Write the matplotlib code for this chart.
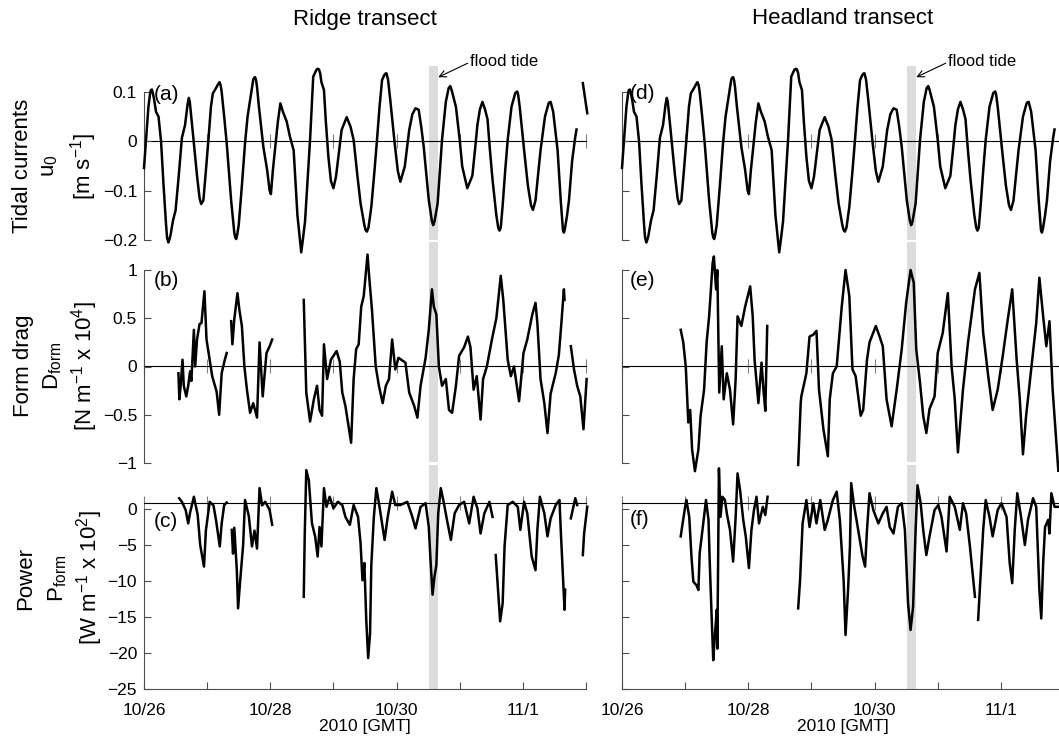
import numpy as np
import matplotlib
matplotlib.use('Agg')
import matplotlib.pyplot as plt

nan = np.nan

# time axis: days after 10/26 00:00 GMT
# tidal current u0 [m/s] (same record drawn for both transects)
u0_pts = [
    (0.00, -0.054), (0.03, 0.00), (0.07, 0.07), (0.10, 0.10), (0.11, 0.104), (0.125, 0.105),
    (0.145, 0.095), (0.16, 0.085), (0.19, 0.06), (0.23, 0.05), (0.27, 0.00), (0.31, -0.09),
    (0.35, -0.17), (0.365, -0.195), (0.386, -0.205), (0.405, -0.198), (0.42, -0.19),
    (0.46, -0.16), (0.50, -0.14), (0.55, -0.07), (0.60, 0.007), (0.65, 0.033), (0.69, 0.075),
    (0.71, 0.088), (0.725, 0.08), (0.74, 0.06), (0.78, 0.009), (0.84, -0.07), (0.88, -0.115),
    (0.905, -0.127), (0.94, -0.12), (0.98, -0.06), (1.02, 0.003), (1.06, 0.07), (1.09, 0.097),
    (1.15, 0.11), (1.17, 0.115), (1.196, 0.12), (1.215, 0.113), (1.23, 0.10), (1.27, 0.05),
    (1.31, -0.004), (1.38, -0.12), (1.43, -0.185), (1.445, -0.195), (1.46, -0.198),
    (1.475, -0.19), (1.50, -0.17), (1.55, -0.09), (1.60, -0.004), (1.64, 0.05), (1.68, 0.084),
    (1.73, 0.125), (1.745, 0.129), (1.76, 0.13), (1.775, 0.124), (1.79, 0.11), (1.82, 0.07),
    (1.89, -0.011), (1.95, -0.058), (1.99, -0.10), (2.01, -0.107), (2.04, -0.06),
    (2.08, -0.011), (2.12, 0.04), (2.16, 0.077), (2.20, 0.06), (2.26, 0.04), (2.31, 0.01),
    (2.37, -0.018), (2.43, -0.15), (2.47, -0.20), (2.49, -0.225), (2.52, -0.195),
    (2.55, -0.163), (2.59, -0.08), (2.63, 0.003), (2.68, 0.131), (2.73, 0.145), (2.75, 0.147),
    (2.77, 0.146), (2.79, 0.138), (2.81, 0.12), (2.85, 0.104), (2.88, 0.04), (2.92, -0.031),
    (2.96, -0.08), (3.00, -0.095), (3.04, -0.072), (3.09, -0.02), (3.13, 0.023),
    (3.16, 0.033), (3.21, 0.049), (3.27, 0.03), (3.32, 0.003), (3.38, -0.07), (3.43, -0.126),
    (3.49, -0.17), (3.51, -0.18), (3.53, -0.183), (3.555, -0.175), (3.60, -0.133),
    (3.65, -0.06), (3.69, 0.003), (3.73, 0.07), (3.77, 0.124), (3.80, 0.133), (3.82, 0.137),
    (3.84, 0.138), (3.865, 0.125), (3.90, 0.084), (3.97, -0.004), (4.02, -0.06),
    (4.06, -0.082), (4.13, -0.051), (4.20, 0.023), (4.25, 0.055), (4.30, 0.067),
    (4.35, 0.064), (4.39, 0.03), (4.43, -0.011), (4.51, -0.119), (4.56, -0.162),
    (4.58, -0.17), (4.60, -0.163), (4.65, -0.126), (4.72, 0.003), (4.78, 0.08),
    (4.825, 0.108), (4.85, 0.112), (4.87, 0.105), (4.90, 0.09), (4.94, 0.07), (5.00, 0.003),
    (5.04, -0.051), (5.12, -0.095), (5.20, -0.07), (5.24, -0.02), (5.28, 0.033),
    (5.32, 0.065), (5.36, 0.080), (5.40, 0.065), (5.44, 0.045), (5.48, -0.02), (5.52, -0.078),
    (5.58, -0.15), (5.61, -0.175), (5.63, -0.181), (5.65, -0.175), (5.68, -0.13),
    (5.72, -0.06), (5.76, 0.003), (5.82, 0.07), (5.88, 0.098), (5.91, 0.101), (5.925, 0.095),
    (5.95, 0.07), (6.02, -0.018), (6.08, -0.09), (6.13, -0.13), (6.16, -0.139), (6.20, -0.12),
    (6.28, -0.018), (6.35, 0.05), (6.41, 0.078), (6.44, 0.080), (6.48, 0.06), (6.55, -0.018),
    (6.60, -0.12), (6.635, -0.18), (6.65, -0.185), (6.665, -0.178), (6.70, -0.15),
    (6.73, -0.12), (6.78, -0.04), (6.83, 0.009), (6.85, 0.024),
    (nan, nan), (6.95, 0.118), (7.02, 0.057),
]

# form drag, ridge transect [N/m x 1e4]
drag_ridge_pts = [
    (0.545, -0.07), (0.56, -0.34), (0.58, -0.2), (0.61, 0.07), (0.63, -0.2), (0.67, -0.31),
    (0.70, -0.2), (0.73, -0.05), (0.75, -0.15), (0.79, 0.38), (0.81, 0.0), (0.84, 0.28),
    (0.88, 0.44), (0.91, 0.45), (0.957, 0.78), (0.99, 0.28), (1.04, 0.07), (1.08, -0.1),
    (1.15, -0.26), (1.19, -0.5), (1.23, -0.07), (1.28, 0.07), (1.31, 0.14), (nan, nan),
    (1.38, 0.47), (1.40, 0.23), (1.43, 0.49), (1.48, 0.76), (1.51, 0.59), (1.55, 0.42),
    (1.59, 0.0), (1.63, -0.24), (1.68, -0.48), (1.73, -0.38), (1.79, -0.53), (1.83, 0.25),
    (1.88, -0.31), (1.94, 0.14), (1.99, 0.21), (2.03, 0.28), (nan, nan),
    (2.53, 0.69), (2.57, -0.27), (2.63, -0.57), (2.69, -0.34), (2.74, -0.2), (2.78, -0.45),
    (2.82, -0.51), (2.85, 0.23), (2.90, -0.13), (2.96, 0.07), (3.05, 0.16), (3.10, 0.05),
    (3.14, -0.27), (3.19, -0.41), (3.28, -0.79), (3.32, -0.13), (3.36, 0.18), (3.40, 0.23),
    (3.44, 0.62), (3.48, 0.73), (3.54, 1.16), (3.57, 0.9), (3.61, 0.59), (3.67, 0.0),
    (3.72, -0.2), (3.78, -0.38), (3.83, -0.2), (3.88, -0.13), (3.93, 0.28), (3.98, -0.03),
    (4.03, 0.09), (4.14, 0.04), (4.20, -0.27), (4.28, -0.41), (4.33, -0.53), (4.38, -0.2),
    (4.46, 0.09), (4.51, 0.38), (4.56, 0.8), (4.59, 0.62), (4.63, 0.54), (4.67, 0.0),
    (4.72, -0.2), (4.78, -0.13), (4.83, -0.45), (4.88, -0.48), (4.94, -0.2), (4.99, 0.11),
    (5.07, 0.2), (5.13, 0.31), (5.17, 0.2), (5.22, -0.24), (5.27, -0.1), (5.33, -0.55),
    (5.37, -0.13), (5.43, 0.0), (5.51, 0.28), (5.58, 0.5), (5.65, 0.94), (5.69, 0.69),
    (5.76, 0.07), (5.81, -0.1), (5.86, 0.0), (5.94, -0.36), (6.01, 0.14), (6.07, 0.28),
    (6.15, 0.54), (6.20, 0.66), (6.23, 0.45), (6.28, -0.13), (6.34, -0.38), (6.39, -0.69),
    (6.44, -0.28), (6.52, -0.07), (6.57, 0.12), (6.61, 0.45), (6.65, 0.8), (6.66, 0.69),
    (nan, nan), (6.76, 0.21), (6.81, -0.03), (6.86, -0.2), (6.91, -0.31), (6.96, -0.65),
    (7.01, -0.13),
]

# form drag, headland transect [N/m x 1e4]
drag_head_pts = [
    (0.93, 0.38), (0.97, 0.25), (1.01, 0.0), (1.05, -0.58), (1.08, -0.45), (1.11, -0.86),
    (1.155, -1.085), (1.21, -0.86), (1.245, -0.51), (1.30, -0.24), (1.34, 0.25), (1.38, 0.52),
    (1.435, 1.07), (1.455, 1.14), (1.49, 0.8), (1.51, 1.0), (1.54, -0.27), (1.58, 0.21),
    (1.61, -0.34), (1.66, -0.07), (1.71, -0.24), (1.76, -0.6), (1.80, -0.13), (1.83, 0.52),
    (1.89, 0.42), (1.95, 0.62), (2.03, 0.83), (2.07, 0.52), (2.10, 0.07), (2.16, -0.38),
    (2.21, 0.04), (2.24, -0.24), (2.27, -0.46), (2.30, 0.42), (nan, nan),
    (2.79, -1.02), (2.83, -0.38), (2.84, -0.31), (2.92, -0.07), (2.97, 0.31), (3.03, 0.33),
    (3.08, 0.37), (3.12, -0.24), (3.19, -0.65), (3.26, -0.93), (3.29, -0.34), (3.34, -0.07),
    (3.40, 0.0), (3.48, 0.62), (3.54, 1.0), (3.60, 0.73), (3.65, -0.03), (3.70, -0.1),
    (3.78, -0.51), (3.82, -0.45), (3.88, 0.07), (3.92, 0.25), (4.02, 0.42), (4.08, 0.31),
    (4.13, 0.21), (4.19, -0.34), (4.27, -0.62), (4.35, -0.24), (4.43, 0.18), (4.50, 0.66),
    (4.57, 1.0), (4.62, 0.87), (4.66, 0.18), (4.72, -0.17), (4.77, -0.51), (4.82, -0.69),
    (4.87, -0.44), (4.95, -0.31), (5.00, 0.14), (5.08, 0.35), (5.16, 0.76), (5.22, 0.0),
    (5.27, -0.34), (5.32, -0.89), (5.40, -0.24), (5.48, 0.25), (5.59, 0.8), (5.66, 0.97),
    (5.72, 0.35), (5.80, -0.1), (5.87, -0.45), (5.95, -0.24), (6.03, 0.11), (6.11, 0.49),
    (6.18, 0.8), (6.25, 0.07), (6.30, -0.34), (6.35, -0.91), (6.40, -0.51), (6.48, -0.03),
    (6.56, 0.45), (6.61, 0.92), (6.67, 0.52), (6.72, 0.21), (6.77, 0.47), (6.82, -0.24),
    (6.91, -1.08),
]

# form drag power, ridge transect [W/m x 1e2]
power_ridge_pts = [
    (0.557, 1.48), (0.60, 1.0), (0.66, -0.14), (0.70, -2.0), (0.73, -0.5), (0.79, 1.7),
    (0.85, -0.8), (0.89, -5.0), (0.95, -8.0), (0.98, -3.0), (1.04, 1.0), (1.10, 0.5),
    (1.14, -1.5), (1.20, -5.2), (1.23, -2.0), (1.27, 0.55), (1.31, 0.9), (nan, nan),
    (1.39, -2.9), (1.41, -6.2), (1.43, -2.6), (1.47, -8.5), (1.49, -13.8), (1.52, -10.3),
    (1.57, -5.0), (1.60, 1.25), (1.66, -1.0), (1.71, -5.2), (1.75, -3.0), (1.79, -5.5),
    (1.83, 2.9), (1.87, 0.5), (1.92, 1.0), (1.99, -0.14), (2.03, -2.2), (nan, nan),
    (2.53, -12.2), (2.545, -3.8), (2.57, 5.4), (2.61, 4.0), (2.66, -2.0), (2.71, -3.8),
    (2.75, -6.6), (2.78, -2.5), (2.81, -5.2), (2.85, 2.9), (2.89, 0.3), (2.94, 1.7),
    (3.00, 0.1), (3.07, 1.0), (3.14, 0.55), (3.19, -1.1), (3.26, -2.2), (3.32, 0.55),
    (3.39, -1.1), (3.43, -4.8), (3.46, -9.9), (3.49, -7.5), (3.52, -15.4), (3.55, -20.7),
    (3.58, -17.3), (3.60, -7.8), (3.64, -1.1), (3.68, 2.9), (3.73, 0.3), (3.77, -2.0),
    (3.81, -4.3), (3.86, -1.1), (3.93, 2.4), (3.98, 0.55), (4.06, 0.55), (4.17, 1.0),
    (4.25, -1.1), (4.30, -2.7), (4.38, 0.3), (4.46, 0.8), (4.51, -2.5), (4.54, -7.5),
    (4.57, -11.9), (4.60, -9.4), (4.63, -7.8), (4.66, -0.6), (4.70, 2.9), (4.75, 0.8),
    (4.80, -1.6), (4.86, -4.3), (4.92, -0.6), (4.99, 0.55), (5.07, 1.0), (5.15, -2.0),
    (5.22, 1.7), (5.28, 0.1), (5.33, -3.4), (5.39, -0.6), (5.47, 1.0), (5.52, -1.1),
    (nan, nan), (5.57, -6.4), (5.64, -15.6), (5.68, -13.1), (5.71, -5.2), (5.76, 0.55),
    (5.84, 1.0), (5.92, 0.3), (5.96, -2.9), (6.02, 1.0), (6.07, -0.6), (6.14, -6.6),
    (6.20, -8.5), (6.23, -2.9), (6.27, 1.7), (6.34, -0.6), (6.39, -3.8), (6.44, -1.3),
    (6.52, 0.55), (6.58, 1.25), (6.60, -2.9), (6.66, -14.0), (6.67, -11.2), (nan, nan),
    (6.76, -1.3), (6.83, 1.5), (6.86, 0.55), (nan, nan), (6.95, -6.4), (6.97, -3.4),
    (7.02, 0.3),
]

# form drag power, headland transect [W/m x 1e2]
power_head_pts = [
    (0.93, -3.8), (0.96, -2.0), (1.00, 0.3), (1.02, 1.25), (1.065, -1.1), (1.10, -6.6),
    (1.13, -10.1), (1.18, -10.6), (1.21, -11.25), (1.23, -6.15), (1.28, -2.5), (1.33, 1.25),
    (1.37, -1.5), (1.39, -7.5), (1.42, -15.0), (1.445, -21.0), (1.47, -17.7), (1.50, -14.0),
    (1.51, -19.4), (1.535, 5.65), (1.56, -1.1), (1.59, 1.7), (1.63, 1.25), (1.66, -0.6),
    (1.71, -2.9), (1.76, -7.3), (1.80, -1.1), (1.83, 4.95), (1.87, 2.6), (1.92, -1.5),
    (1.96, -3.8), (2.01, -8.2), (2.05, -2.9), (2.09, -0.14), (2.13, 1.7), (2.17, -2.0),
    (2.23, 0.3), (2.27, -0.83), (2.305, 1.7), (nan, nan),
    (2.79, -13.8), (2.82, -9.9), (2.86, -2.0), (2.92, 1.25), (2.97, -2.5), (3.03, 0.8),
    (3.08, -2.0), (3.14, 1.25), (3.21, -2.9), (3.26, -1.5), (3.34, 1.25), (3.40, 2.4),
    (3.45, -1.5), (3.51, -9.9), (3.54, -17.5), (3.58, -11.25), (3.61, -5.2), (3.63, 3.6),
    (3.67, 0.8), (3.74, -2.9), (3.81, -6.6), (3.85, -8.0), (3.88, -2.9), (3.92, 2.2),
    (3.98, -0.14), (4.06, -2.0), (4.13, -0.6), (4.19, 0.3), (4.24, -2.5), (4.30, -3.4),
    (4.37, 0.3), (4.43, 0.8), (4.48, -2.9), (4.53, -13.1), (4.57, -16.8), (4.61, -13.6),
    (4.65, -2.9), (4.68, 3.3), (4.73, 0.8), (4.77, -2.9), (4.82, -6.4), (4.87, -3.8),
    (4.95, -0.14), (5.01, 0.55), (5.06, -1.1), (5.14, -5.9), (5.19, 1.7), (5.27, 0.3),
    (5.35, -2.9), (5.40, 0.8), (5.45, -0.6), (5.51, -5.2), (5.59, -12.2), (nan, nan),
    (5.64, -15.4), (5.66, -12.2), (5.72, -2.9), (5.76, 1.25), (5.82, -1.1), (5.87, -3.8),
    (5.95, -0.14), (6.01, 0.8), (6.09, -1.1), (6.14, -7.5), (6.18, -10.3), (6.22, -2.9),
    (6.26, 2.2), (6.32, -1.1), (6.38, -5.0), (6.43, -1.5), (6.51, 1.5), (6.56, 0.3),
    (6.61, -11.25), (6.64, -15.2), (6.67, -7.5), (6.70, -2.5), (6.75, -1.5), (6.77, -3.4),
    (6.80, 2.2), (6.85, 0.3), (6.91, 0.3),
]

# flood tide window (days)
flood_start, flood_end = 4.52, 4.66

day_ticks = list(range(8))
day_labels = ['10/26', '', '10/28', '', '10/30', '', '11/1', '']

u0_ticks = [-0.2, -0.1, 0, 0.1]
u0_labels = ['\u22120.2', '\u22120.1', '0', '0.1']
drag_ticks = [-1, -0.5, 0, 0.5, 1]
drag_labels = ['\u22121', '\u22120.5', '0', '0.5', '1']
power_ticks = [-25, -20, -15, -10, -5, 0]
power_labels = ['\u221225', '\u221220', '\u221215', '\u221210', '\u22125', '0']

plt.rcParams['font.family'] = ['Liberation Sans', 'DejaVu Sans']
plt.rcParams['mathtext.default'] = 'regular'

W, H = 1059, 736
fig = plt.figure(figsize=(W / 100, H / 100), dpi=100)

col_x = [144, 622]
col_w = 442
# (top px, bottom px) for each row
rows = [(92, 240), (270, 463), (509, 689)]

spine_c = '0.3'
band_c = '#dcdcdc'


def px_axes(x0, top, bot):
    return fig.add_axes([x0 / W, 1 - bot / H, col_w / W, (bot - top) / H])


series = [
    [u0_pts, drag_ridge_pts, power_ridge_pts],
    [u0_pts, drag_head_pts, power_head_pts],
]
ylims = [(-0.2, 0.1), (-1, 1), (-25, 0)]
yticks = [(u0_ticks, u0_labels), (drag_ticks, drag_labels), (power_ticks, power_labels)]
zero_at = [0.0, 0.0, 0.8]
band_top = [66, 241.5, 464.5]
letters = [['(a)', '(b)', '(c)'], ['(d)', '(e)', '(f)']]
letter_y = [[0.98, 0.948, 0.928], [0.99, 0.948, 0.94]]

for c in range(2):
    for r in range(3):
        top, bot = rows[r]
        ax = px_axes(col_x[c], top, bot)
        ax.set_xlim(0, 7)
        ax.set_ylim(*ylims[r])
        for s in ['top', 'right']:
            ax.spines[s].set_visible(False)
        ax.spines['left'].set_color(spine_c)
        ax.spines['bottom'].set_color(spine_c)
        ax.patch.set_visible(False)

        ax.set_yticks(yticks[r][0])
        ax.set_yticklabels(yticks[r][1] if c == 0 else [])
        ax.tick_params(axis='y', direction='in', length=5, color=spine_c,
                       labelsize=12.5, pad=5)

        if r < 2:
            ax.spines['bottom'].set_visible(False)
            ax.set_xticks([])
        else:
            ax.set_xticks(day_ticks)
            ax.set_xticklabels(day_labels)
            ax.tick_params(axis='x', direction='in', length=5, color=spine_c,
                           labelsize=12.5, pad=10)
            ax.set_xlabel('2010 [GMT]', fontsize=12.5, labelpad=1)

        # reference line with day ticks
        lo, hi = ylims[r]
        sec = ax.secondary_xaxis((zero_at[r] - lo) / (hi - lo))
        sec.set_xticks(day_ticks)
        sec.tick_params(direction='inout', length=10, width=0.8, color='0.5',
                        labelbottom=False, labeltop=False)
        for sp in sec.spines.values():
            sp.set_color('k')
            sp.set_linewidth(0.8)

        # flood tide band
        h = bot - top
        ax.axvspan(flood_start, flood_end, ymin=0.005 if r == 1 else 0,
                   ymax=(bot - band_top[r]) / h, color=band_c, lw=0,
                   zorder=0, clip_on=False)

        d, v = np.array(series[c][r], dtype=float).T
        ax.plot(d, v, color='k', lw=1.8, clip_on=False, zorder=3,
                solid_joinstyle='round')

        ax.text(0.022 if c == 0 else 0.018, letter_y[c][r], letters[c][r],
                transform=ax.transAxes, fontsize=15, ha='left', va='center')

        if r == 0:
            ax.annotate('flood tide', xy=(flood_end, 0.130), xytext=(5.17, 0.161),
                        fontsize=12, ha='left', va='center', annotation_clip=False,
                        arrowprops=dict(arrowstyle='->', lw=0.8, color='k',
                                        shrinkA=0, shrinkB=0, relpos=(0, 0.5)))

# column titles
for x0, title in zip(col_x, ['Ridge transect', 'Headland transect']):
    fig.text((x0 + col_w / 2) / W, 1 - 19 / H, title, fontsize=16,
             ha='center', va='center')

# row labels, three stacked lines each
row_labels = [
    (166, [(23, 'Tidal currents'), (50, 'u$_0$'), (84, '[m s$^{-1}$]')]),
    (366, [(23, 'Form drag'), (53, 'D$_{form}$'), (85, '[N m$^{-1}$ x 10$^4$]')]),
    (578, [(26, 'Power'), (58, 'P$_{form}$'), (90, '[W m$^{-1}$ x 10$^2$]')]),
]
for yc, parts in row_labels:
    for xc, txt in parts:
        fig.text(xc / W, 1 - yc / H, txt, fontsize=16, rotation=90,
                 ha='center', va='center')

fig.savefig('out.png', dpi=100)
